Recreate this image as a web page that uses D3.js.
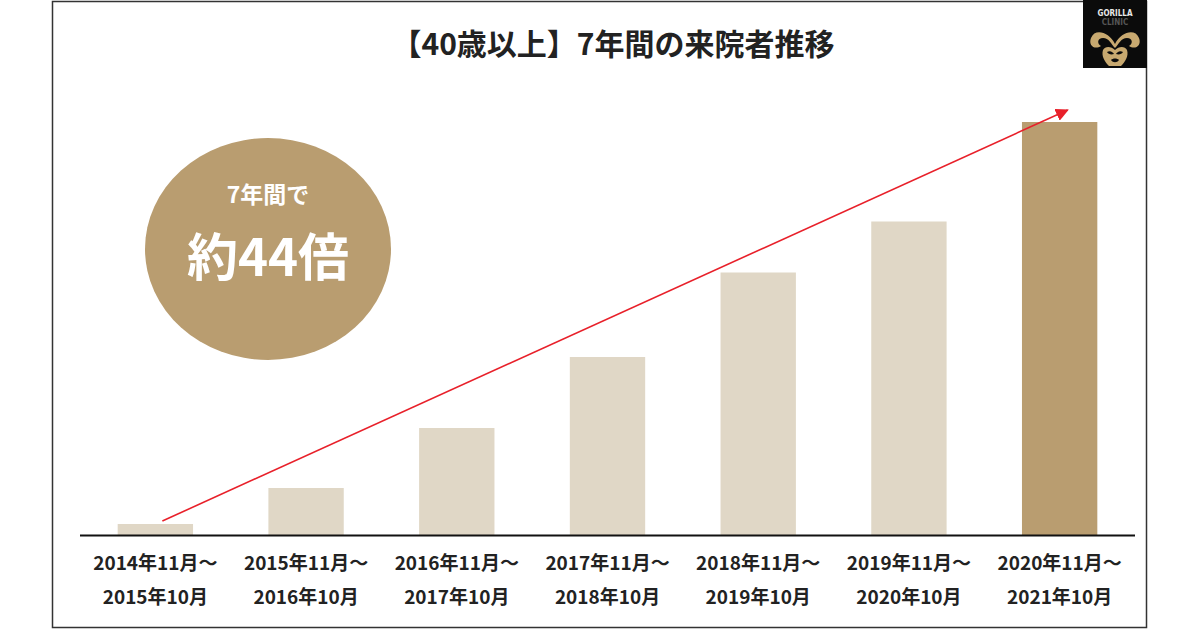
<!DOCTYPE html>
<html lang="ja">
<head>
<meta charset="UTF-8" />
<title>【40歳以上】7年間の来院者推移</title>
<script src="https://d3js.org/d3.v7.min.js"></script>
<style>
  body { margin: 0; background: #fff; font-family: "Noto Sans CJK JP", sans-serif; }
  svg { display: block; }
  .title { font-size: 30px; font-weight: 700; fill: #222; }
  .xlab { font-size: 19px; font-weight: 700; fill: #222; }
</style>
</head>
<body>
<svg id="chart" width="1200" height="630"></svg>
<script>
// data (relative visitor counts)
const periodsFrom = ["2014年11月～", "2015年11月～", "2016年11月～", "2017年11月～", "2018年11月～", "2019年11月～", "2020年11月～"];
const periodsTo = ["2015年10月", "2016年10月", "2017年10月", "2018年10月", "2019年10月", "2020年10月", "2021年10月"];
const visitors = [11.5, 47.5, 107.5, 178.5, 263, 314, 413.5];
const barColors = ["#e0d7c6", "#e0d7c6", "#e0d7c6", "#e0d7c6", "#e0d7c6", "#e0d7c6", "#b99d70"];

const svg = d3.select("#chart");

// outer frame
svg.append("rect")
  .attr("x", 52.5).attr("y", 1.5)
  .attr("width", 1094).attr("height", 626)
  .attr("fill", "none").attr("stroke", "#333").attr("stroke-width", 1.5);

const x = d3.scaleBand()
  .domain(d3.range(visitors.length))
  .range([80, 1135])
  .paddingInner(0.5)
  .paddingOuter(0.25);

const y = d3.scaleLinear()
  .domain([0, d3.max(visitors)])
  .range([535.5, 122]);

// title
svg.append("text")
  .attr("class", "title")
  .attr("x", 613).attr("y", 55)
  .attr("text-anchor", "middle")
  .text("【40歳以上】7年間の来院者推移");

// bars
svg.append("g")
  .selectAll("rect")
  .data(visitors)
  .join("rect")
  .attr("x", (d, i) => x(i))
  .attr("y", d => y(d))
  .attr("width", x.bandwidth())
  .attr("height", d => y(0) - y(d))
  .attr("fill", (d, i) => barColors[i]);

// baseline
svg.append("line")
  .attr("x1", 80).attr("x2", 1135)
  .attr("y1", y(0)).attr("y2", y(0))
  .attr("stroke", "#111").attr("stroke-width", 2);

// x labels
const lab = svg.append("g")
  .selectAll("text")
  .data(d3.range(visitors.length))
  .join("text")
  .attr("class", "xlab")
  .attr("text-anchor", "middle")
  .attr("transform", i => `translate(${x(i) + x.bandwidth() / 2},0)`);
lab.append("tspan").attr("x", 0).attr("y", 570).text(i => periodsFrom[i]);
lab.append("tspan").attr("x", 0).attr("y", 604).text(i => periodsTo[i]);

// red trend arrow
svg.append("defs").append("marker")
  .attr("id", "head")
  .attr("viewBox", "0 0 10 10")
  .attr("refX", 9).attr("refY", 5)
  .attr("markerWidth", 13).attr("markerHeight", 13)
  .attr("markerUnits", "userSpaceOnUse")
  .attr("orient", "auto")
  .append("path")
  .attr("d", "M0,0L10,5L0,10Z")
  .attr("fill", "#e8202a");

const last = visitors.length - 1;
svg.append("line")
  .attr("x1", x(0) + x.bandwidth() / 2 + 7)
  .attr("y1", y(visitors[0]) - 3)
  .attr("x2", x(last) + x.bandwidth() / 2 + 8)
  .attr("y2", y(visitors[last]) - 12)
  .attr("stroke", "#e8202a").attr("stroke-width", 1.6)
  .attr("marker-end", "url(#head)");

// badge
const badge = svg.append("g").attr("transform", "translate(268,249)");
badge.append("ellipse").attr("rx", 123).attr("ry", 111).attr("fill", "#b99d70");
badge.append("text")
  .attr("y", -46).attr("text-anchor", "middle")
  .attr("font-size", 23).attr("font-weight", 700).attr("fill", "#fff")
  .text("7年間で");
badge.append("text")
  .attr("y", 27).attr("text-anchor", "middle")
  .attr("font-size", 51).attr("font-weight", 700).attr("fill", "#fff")
  .text("約44倍");

// logo
const logo = svg.append("g").attr("transform", "translate(1083,0)");
logo.append("rect").attr("width", 64).attr("height", 68).attr("fill", "#0b0b0b");
logo.append("text").attr("x", 32).attr("y", 16).attr("text-anchor", "middle")
  .attr("font-family", "DejaVu Sans Condensed").attr("font-weight", 700)
  .attr("font-size", 8).attr("fill", "#e8e8e8").text("GORILLA");
logo.append("text").attr("x", 32).attr("y", 25).attr("text-anchor", "middle")
  .attr("font-family", "DejaVu Sans Condensed").attr("font-weight", 700)
  .attr("font-size", 8).attr("fill", "#555").text("CLINIC");
const gold = "#c8a970";
logo.append("path")
  .attr("d", "M32,44 C26,32 12,28 8,38 C5,46 12,50 18,46 C14,44 14,38 20,38 C26,38 28,44 32,48 C36,44 38,38 44,38 C50,38 50,44 46,46 C52,50 59,46 56,38 C52,28 38,32 32,44Z")
  .attr("fill", gold);
logo.append("path")
  .attr("d", "M20,50 C22,46 28,46 32,50 C36,46 42,46 44,50 C46,56 42,62 38,66 L26,66 C22,62 18,56 20,50Z")
  .attr("fill", gold);
logo.append("path")
  .attr("d", "M24,52 C27,50 30,52 31,54 C28,55 25,54 24,52Z M40,52 C37,50 34,52 33,54 C36,55 39,54 40,52Z M28,60 C30,58 34,58 36,60 C34,63 30,63 28,60Z")
  .attr("fill", "#0b0b0b");
</script>
</body>
</html>
